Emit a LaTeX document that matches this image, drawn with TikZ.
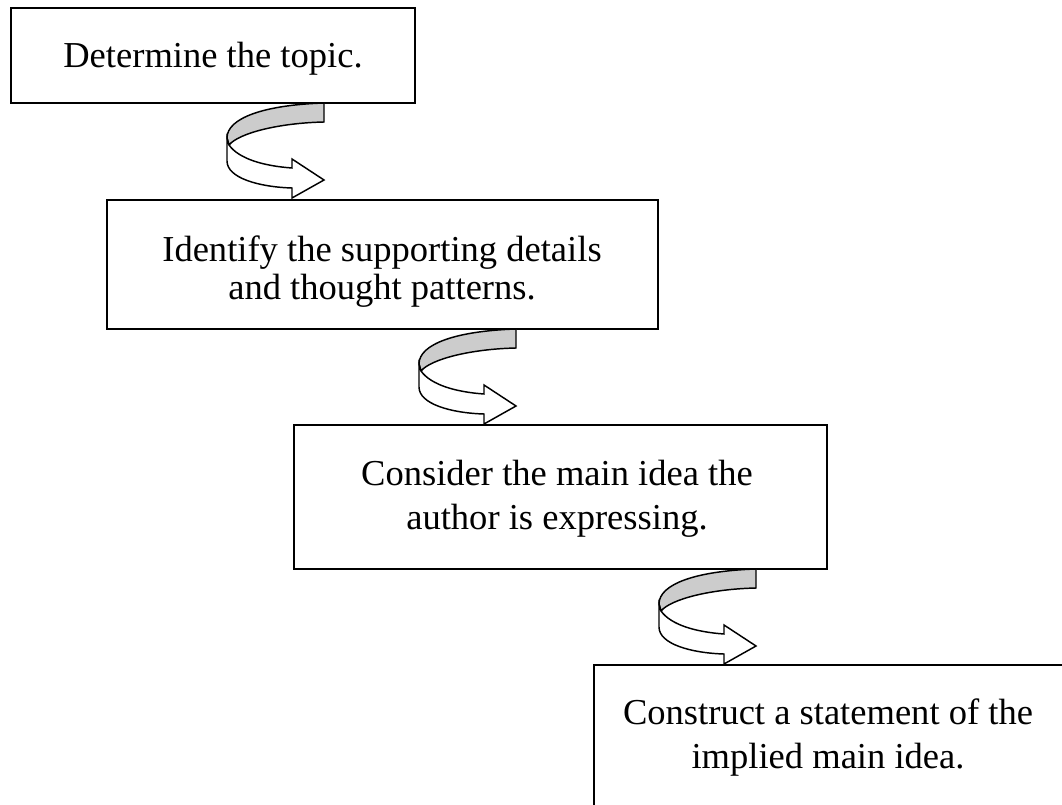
\documentclass[tikz,border=0pt]{standalone}
\usepackage{fontspec}
\setmainfont{Liberation Serif}
\usetikzlibrary{fit}
\tikzset{
  box/.style={draw=black, line width=1.5pt, inner sep=0pt, rectangle},
  lbl/.style={font=\fontsize{27.4pt}{30pt}\selectfont, inner sep=0pt, anchor=base},
  ribbonline/.style={draw=black, line width=1.1pt, line join=miter},
  ribbon/.pic={
    \path[ribbonline, fill=black!20] (0,0) .. controls (-60,2) and (-97,15) .. (-97,35)
      -- (-95,42) .. controls (-85,30) and (-45,20) .. (0,19) -- cycle;
    \path[ribbonline, fill=white] (-95,42) .. controls (-85,56) and (-60,63) .. (-32,65)
      -- (-32,56) -- (0,77) -- (-32,95) -- (-32,85)
      .. controls (-65,84) and (-97,75) .. (-97,58) -- (-97,35) -- cycle;
  }
}
\begin{document}
\begin{tikzpicture}[x=0.75pt, y=-0.75pt]
  \useasboundingbox (0,0) rectangle (1062,805);
  \clip (0,0) rectangle (1062,805);
  \fill[white] (0,0) rectangle (1062,805);

  % boxes
  \node[box, fit={(11,8) (415,103)}] (b1) {};
  \node[box, fit={(107,200) (658,329)}] (b2) {};
  \node[box, fit={(294,425) (827,569)}] (b3) {};
  \node[box, fit={(594,665) (1080,840)}] (b4) {};

  % texts
  \node[lbl] (t1) at (213,68) {Determine the topic.};
  \node[lbl] (t2a) at (382,262) {Identify the supporting details};
  \node[lbl] (t2b) at (382,299) {and thought patterns.};
  \node[lbl] (t3a) at (557,485) {Consider the main idea the};
  \node[lbl] (t3b) at (557,529) {author is expressing.};
  \node[lbl] (t4a) at (828,724) {Construct a statement of the};
  \node[lbl] (t4b) at (828,768) {implied main idea.};

  % curved ribbon arrows between boxes
  \pic (a1) at (324,103) {ribbon};
  \pic (a2) at (516,329) {ribbon};
  \pic (a3) at (756,569) {ribbon};
\end{tikzpicture}
\end{document}
